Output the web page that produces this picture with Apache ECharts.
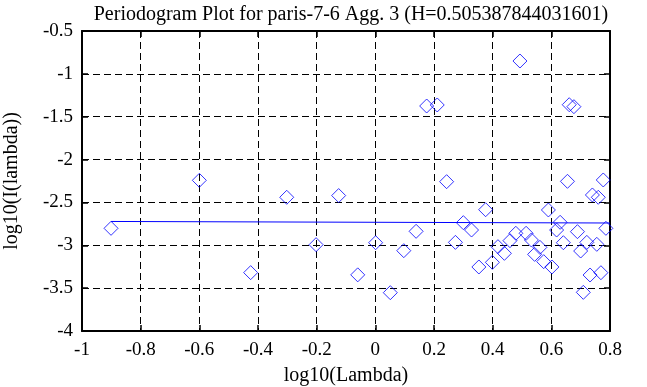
<!DOCTYPE html>
<html><head><meta charset="utf-8">
<script src="https://cdn.jsdelivr.net/npm/echarts@6/dist/echarts.min.js"></script>
<style>html,body{margin:0;padding:0;background:#fff}#c{width:647px;height:387px}</style>
</head><body><div id="c"></div>
<script>
var titleText = 'Periodogram Plot for paris-7-6 Agg. 3 (H=0.505387844031601)';
var xName = 'log10(Lambda)';
var yName = 'log10(I(lambda))';
var xs = [-0.901,-0.600,-0.425,-0.302,-0.202,-0.125,-0.060,0.001,0.051,0.097,0.139,0.175,0.211,0.243,0.273,0.300,0.328,0.353,0.376,0.399,0.418,0.440,0.459,0.479,0.493,0.514,0.532,0.543,0.561,0.574,0.590,0.602,0.618,0.630,0.641,0.655,0.661,0.677,0.689,0.700,0.709,0.721,0.732,0.740,0.755,0.760,0.769,0.777,0.786];
var ys = [-2.802,-2.242,-3.319,-2.440,-2.993,-2.420,-3.345,-2.970,-3.553,-3.063,-2.837,-1.375,-1.363,-2.258,-2.966,-2.736,-2.822,-3.253,-2.585,-3.199,-3.016,-3.094,-2.946,-2.860,-0.850,-2.860,-2.938,-3.106,-3.024,-3.191,-2.588,-3.253,-2.822,-2.732,-2.970,-2.254,-1.360,-1.383,-2.841,-3.067,-3.549,-2.966,-3.347,-2.413,-2.989,-2.440,-3.320,-2.238,-2.802];
var fitX = [-0.901, 0.8];
var fitY = [-2.722, -2.740];

var pts = xs.map(function(x,i){return [x, ys[i]];});
var fit = fitX.map(function(x,i){return [x, fitY[i]];});
var font = 'Liberation Serif';
function fmt(v){ var r = Math.round(v*10)/10; return String(r); }
var chart = echarts.init(document.getElementById('c'), null, {renderer:'canvas'});
var axisCommon = {
  axisLine:{show:true, onZero:false, lineStyle:{color:'#000', width:2}},
  axisTick:{show:true, inside:true, length:6, lineStyle:{color:'#000', width:1.5}},
};
chart.setOption({
  animation:false,
  title:{text:titleText, left:346, textAlign:'center', top:0, textStyle:{fontFamily:font, fontSize:20, fontWeight:'normal', color:'#000'}},
  grid:{left:82, right:37, top:31, bottom:56, outerBoundsMode:'none', containLabel:false},
  xAxis:[
    Object.assign({type:'value', min:-1, max:0.8, interval:0.2, position:'bottom',
      name:xName, nameLocation:'middle', nameGap:35,
      nameTextStyle:{fontFamily:font, fontSize:20, color:'#000'},
      axisLabel:{fontFamily:font, fontSize:19, color:'#000', margin:10, formatter:fmt},
      splitLine:{show:true, lineStyle:{color:'#000', type:[7,4], width:1}}}, axisCommon),
    Object.assign({type:'value', min:-1, max:0.8, interval:0.2, position:'top',
      axisLabel:{show:false}, splitLine:{show:false}}, axisCommon)
  ],
  yAxis:[
    Object.assign({type:'value', min:-4, max:-0.5, interval:0.5, position:'left',
      name:yName, nameLocation:'middle', nameGap:60, nameRotate:90,
      nameTextStyle:{fontFamily:font, fontSize:20, color:'#000'},
      axisLabel:{fontFamily:font, fontSize:19, color:'#000', margin:9, formatter:fmt},
      splitLine:{show:true, lineStyle:{color:'#000', type:[7,4], width:1}}}, axisCommon),
    Object.assign({type:'value', min:-4, max:-0.5, interval:0.5, position:'right',
      axisLabel:{show:false}, splitLine:{show:false}}, axisCommon)
  ],
  series:[
    {type:'scatter', data:pts, symbol:'diamond', symbolSize:14,
      itemStyle:{color:'rgba(0,0,0,0)', borderColor:'#0000ff', borderWidth:1}},
    {type:'line', data:fit, showSymbol:false, symbol:'none',
      lineStyle:{color:'#0000ff', width:1}}
  ]
});
</script></body></html>
